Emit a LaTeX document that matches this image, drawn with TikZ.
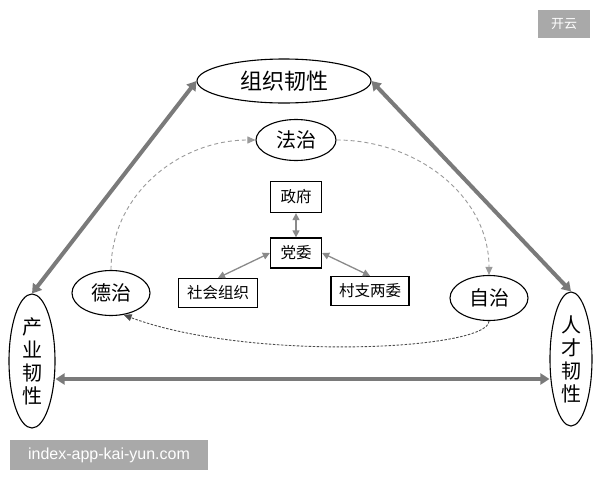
\documentclass[tikz,border=0pt]{standalone}
\usepackage{fontspec}
\newfontfamily\cjk{Noto Sans CJK SC}
\newfontfamily\wm{Liberation Sans}
\usetikzlibrary{arrows.meta,shapes.geometric}
\definecolor{bigc}{HTML}{7A7A7A}
\definecolor{smallc}{HTML}{8A8A8A}
\definecolor{dashc}{HTML}{9A9A9A}
\definecolor{wmc}{HTML}{A9A9A9}
\begin{document}
\begin{tikzpicture}[x=1pt,y=-1pt,
  ell/.style={draw=black, line width=1.1pt, ellipse, inner sep=0pt, font=\cjk},
  boxn/.style={draw=black, line width=1.3pt, rectangle, inner sep=0pt, font=\cjk\fontsize{15.5}{17}\selectfont},
  bigarrow/.style={draw=bigc, line width=4pt, {Triangle[length=9pt,width=11pt]}-{Triangle[length=9pt,width=11pt]}},
  smallarrow/.style={draw=smallc, line width=1.3pt, {Triangle[length=7pt,width=7pt]}-{Triangle[length=7pt,width=7pt]}},
  dasharrow/.style={draw=dashc, line width=0.9pt, dash pattern=on 4pt off 3pt, -{Triangle[length=8pt,width=7pt]}},
  dotarrow/.style={draw=gray!60!black, line width=0.9pt, dash pattern=on 2.5pt off 1.5pt, -{Triangle[length=8pt,width=7pt]}},
  wmbox/.style={fill=wmc, text=white, inner sep=0pt}
]
\fill[white] (0,0) rectangle (600,480);
\useasboundingbox (0,0) rectangle (600,480);

% nodes
\node[ell, minimum width=174pt, minimum height=44pt, font=\cjk\fontsize{22}{24}\selectfont] (org) at (284,81) {组织韧性};
\node[ell, minimum width=80pt, minimum height=41pt, font=\cjk\fontsize{20}{22}\selectfont] (fz) at (296,140) {法治};
\node[ell, minimum width=78pt, minimum height=45pt, font=\cjk\fontsize{20}{22}\selectfont] (dz) at (111,293) {德治};
\node[ell, minimum width=78pt, minimum height=45pt, font=\cjk\fontsize{20}{22}\selectfont] (zz) at (489,298) {自治};
\node[boxn, minimum width=51pt, minimum height=31pt] (zf) at (296,197) {政府};
\node[boxn, minimum width=51pt, minimum height=30pt] (dw) at (296,253) {党委};
\node[boxn, minimum width=79pt, minimum height=29pt] (sh) at (218,293) {社会组织};
\node[boxn, minimum width=78pt, minimum height=29pt] (cz) at (370,291) {村支两委};
\node[ell, minimum width=46pt, minimum height=134pt, align=center, font=\cjk\fontsize{20}{23}\selectfont] (cy) at (32,361) {产\\业\\韧\\性};
\node[ell, minimum width=42pt, minimum height=134pt, align=center, font=\cjk\fontsize{20}{23}\selectfont] (rc) at (571,359) {人\\才\\韧\\性};

% big arrows
\draw[bigarrow] (org.west) -- (cy.north);
\draw[bigarrow] (org.east) -- (rc.north);
\draw[bigarrow] (cy.east |- 0,379) coordinate (hl) -- (rc.west |- 0,379) coordinate (hr);

% small arrows
\draw[smallarrow] (zf.south) -- (dw.north);
\draw[smallarrow] (dw.west) -- (sh.north);
\draw[smallarrow] (dw.east) -- (cz.north);

% dashed curves
\draw[dasharrow] (dz.north) to[out=90,in=180] (fz.west);
\draw[dasharrow] (fz.east) to[out=0,in=90] (zz.north);
\draw[dotarrow] (zz.south) .. controls (489,350) and (250,362) .. (dz.-60);

% watermarks
\node[wmbox, minimum width=52pt, minimum height=28pt, font=\cjk\fontsize{13}{15}\selectfont] (wm1) at (564,24) {开云};
\node[wmbox, minimum width=198pt, minimum height=30pt, font=\wm\fontsize{16}{18}\selectfont] (wm2) at (109,455) {index-app-kai-yun.com};
\end{tikzpicture}
\end{document}
